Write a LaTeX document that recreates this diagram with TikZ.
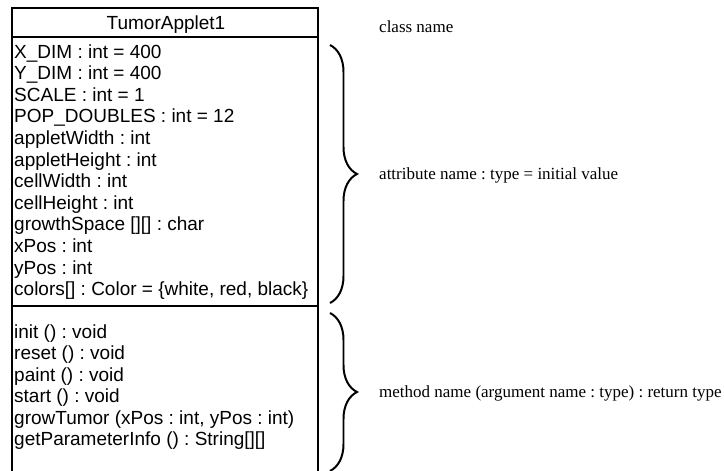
\documentclass[tikz,border=0pt]{standalone}
\usepackage{fontspec}
\setmainfont{Liberation Serif}
\newfontfamily\umlfont{Liberation Sans}
\usetikzlibrary{decorations.pathreplacing}
\frenchspacing
\tikzset{
	member/.style={anchor=west, inner sep=0pt, text height=14pt, text depth=4pt, font=\umlfont\fontsize{19}{21}\selectfont},
	note/.style={anchor=west, inner sep=0pt, font=\fontsize{17}{20}\selectfont},
	curly/.style={line width=0.7mm, decorate, decoration={brace, amplitude=27pt}}
}

\begin{document}
\begin{tikzpicture}[x=1pt, y=-1pt]
		%%%%% START %%%%%
		\useasboundingbox (0, 0) rectangle (724, 471);
		
		\draw[line width=0.5mm] (12, 471) -- (12, 8) -- (318, 8) -- (318, 471);
		\draw[line width=0.5mm] (12, 37) -- (318, 37);
		\draw[line width=0.5mm] (12, 306) -- (318, 306);
		
		\node[inner sep=0pt, text height=14pt, text depth=4pt, font=\umlfont\fontsize{19}{21}\selectfont] (classname) at (166, 24) {TumorApplet1};
		
		\node[member] (xdim) at (14, 53) {X\_DIM : int = 400};
		\node[member] (ydim) at (14, 74.6) {Y\_DIM : int = 400};
		\node[member] (scale) at (14, 96.2) {SCALE : int = 1};
		\node[member] (popdoubles) at (14, 117.8) {POP\_DOUBLES : int = 12};
		\node[member] (appletwidth) at (14, 139.4) {appletWidth : int};
		\node[member] (appletheight) at (14, 161) {appletHeight : int};
		\node[member] (cellwidth) at (14, 182.6) {cellWidth : int};
		\node[member] (cellheight) at (14, 204.2) {cellHeight : int};
		\node[member] (growthspace) at (14, 225.8) {growthSpace [][] : char};
		\node[member] (xpos) at (14, 247.4) {xPos : int};
		\node[member] (ypos) at (14, 269) {yPos : int};
		\node[member] (colors) at (14, 290.6) {colors[] : Color = \{white, red, black\}};
		
		\node[member] (init) at (14, 333) {init () : void};
		\node[member] (reset) at (14, 354.5) {reset () : void};
		\node[member] (paint) at (14, 376) {paint () : void};
		\node[member] (start) at (14, 397.5) {start () : void};
		\node[member] (growtumor) at (14, 419) {growTumor (xPos : int, yPos : int)};
		\node[member] (getparameterinfo) at (14, 440.5) {getParameterInfo () : String[][]};
		
		\coordinate (attrtop) at (330, 45);
		\coordinate (attrbot) at (330, 303);
		\coordinate (methtop) at (330, 313);
		\coordinate (methbot) at (330, 471);
		\draw[curly] (attrtop) -- (attrbot);
		\draw[curly] (methtop) -- (methbot);
		
		\node[note] (classnote) at (379, 27) {class name};
		\node[note] (attrnote) at (379, 175) {attribute name : type = initial value};
		\node[note] (methnote) at (379, 393) {method name (argument name : type) : return type};
		
		%%%%% END %%%%%
	\end{tikzpicture}
\end{document}
